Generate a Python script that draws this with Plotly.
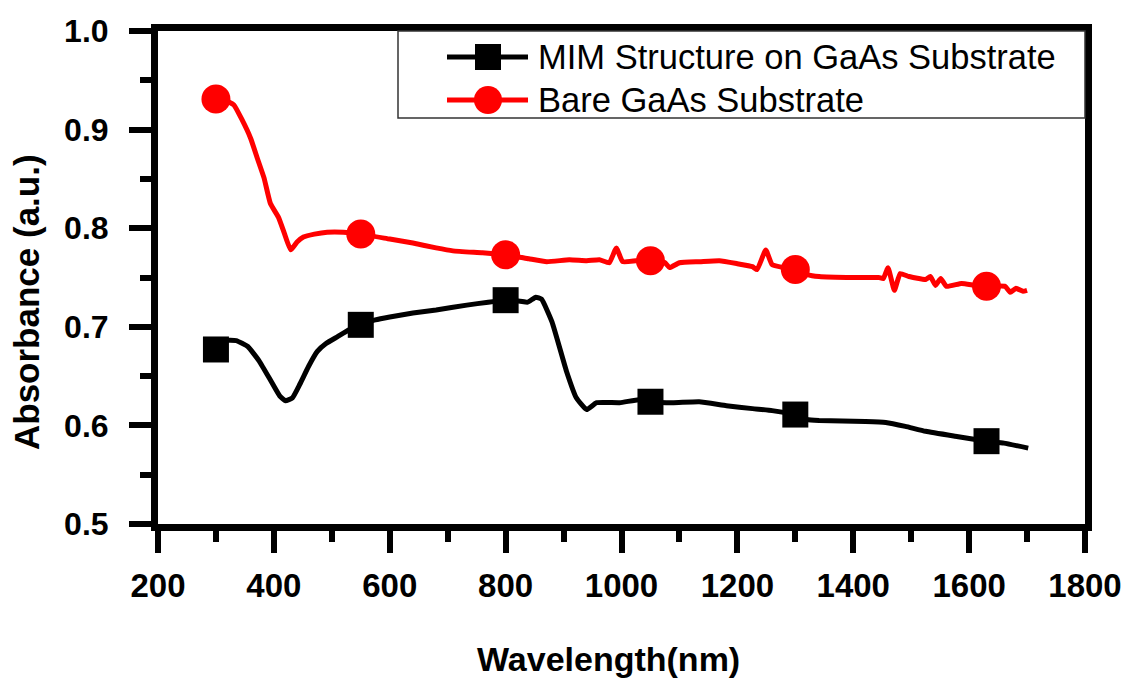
import plotly.graph_objects as go

# ---------------- data ----------------
series_names = ["MIM Structure on GaAs Substrate", "Bare GaAs Substrate"]

mim_x = [300, 315, 335, 355, 375, 395, 410, 420, 432, 445, 460, 475, 490, 510, 530,
         550, 575, 600, 640, 680, 733, 770, 800, 825, 838, 852, 862, 880, 905, 922,
         940, 957, 997, 1030, 1050, 1088, 1134, 1181, 1226, 1260, 1300, 1320, 1341,
         1421, 1456, 1490, 1525, 1576, 1630, 1660, 1702]
mim_y = [0.677, 0.686, 0.686, 0.680, 0.665, 0.645, 0.630, 0.625, 0.628, 0.642, 0.660,
         0.675, 0.683, 0.690, 0.697, 0.702, 0.707, 0.710, 0.714, 0.717, 0.722, 0.725,
         0.727, 0.726, 0.725, 0.730, 0.728, 0.705, 0.655, 0.628, 0.616, 0.623, 0.623,
         0.626, 0.624, 0.623, 0.624, 0.620, 0.617, 0.615, 0.611, 0.606, 0.605, 0.604,
         0.603, 0.599, 0.594, 0.589, 0.584, 0.582, 0.577]

bare_x = [300, 315, 331, 345, 360, 372, 383, 394, 408, 418, 429, 440, 451, 470, 492,
          520, 550, 600, 640, 680, 709, 760, 800, 840, 871, 910, 940, 962, 979, 991,
          1002, 1025, 1050, 1075, 1083, 1100, 1135, 1169, 1200, 1226, 1234, 1249, 1260,
          1280, 1300, 1320, 1341, 1400, 1444, 1452, 1460, 1471, 1481, 1496, 1525, 1533,
          1542, 1551, 1561, 1587, 1610, 1630, 1662, 1671, 1681, 1693, 1700]
bare_y = [0.931, 0.930, 0.925, 0.910, 0.891, 0.870, 0.851, 0.825, 0.811, 0.795, 0.778,
          0.786, 0.791, 0.794, 0.796, 0.796, 0.794, 0.789, 0.785, 0.780, 0.777, 0.775,
          0.773, 0.769, 0.766, 0.768, 0.767, 0.768, 0.765, 0.780, 0.766, 0.767, 0.768,
          0.765, 0.760, 0.765, 0.766, 0.767, 0.764, 0.761, 0.758, 0.778, 0.763, 0.760,
          0.758, 0.753, 0.751, 0.750, 0.750, 0.749, 0.760, 0.737, 0.754, 0.751, 0.748,
          0.751, 0.742, 0.749, 0.741, 0.744, 0.742, 0.741, 0.741, 0.735, 0.739, 0.736,
          0.737]

marker_x = [300, 550, 800, 1050, 1300, 1630]
mim_marker_y = [0.677, 0.702, 0.727, 0.624, 0.611, 0.584]
bare_marker_y = [0.931, 0.794, 0.773, 0.767, 0.758, 0.741]

x_ticks = [200, 400, 600, 800, 1000, 1200, 1400, 1600, 1800]
y_ticks = [0.5, 0.6, 0.7, 0.8, 0.9, 1.0]

x_title = "Wavelength(nm)"
y_title = "Absorbance (a.u.)"

# ---------------- figure ----------------
FONT = "Arial, Liberation Sans, sans-serif"
fig = go.Figure()

fig.add_trace(go.Scatter(x=mim_x, y=mim_y, mode="lines", name=series_names[0],
                         line=dict(color="black", width=5, shape="spline", smoothing=0.4),
                         showlegend=False, hoverinfo="skip"))
fig.add_trace(go.Scatter(x=bare_x, y=bare_y, mode="lines", name=series_names[1],
                         line=dict(color="#ff0000", width=5, shape="spline", smoothing=0.4),
                         showlegend=False, hoverinfo="skip"))
fig.add_trace(go.Scatter(x=marker_x, y=mim_marker_y, mode="markers", name=series_names[0],
                         marker=dict(symbol="square", size=26, color="black"),
                         showlegend=False))
fig.add_trace(go.Scatter(x=marker_x, y=bare_marker_y, mode="markers", name=series_names[1],
                         marker=dict(symbol="circle", size=29, color="#ff0000"),
                         showlegend=False))

axis_common = dict(
    showline=True, linewidth=7, linecolor="black", mirror=True,
    ticks="outside", ticklen=22, tickwidth=6, tickcolor="black",
    showgrid=False, zeroline=False,
)

fig.update_xaxes(
    range=[200, 1800], tickvals=x_ticks,
    tickfont=dict(family=FONT, size=33, color="black", weight="bold"),
    minor=dict(ticks="outside", ticklen=11, tickwidth=6, tickcolor="black", dtick=100,
               showgrid=False),
    ticklabelstandoff=4,
    **axis_common,
)
fig.update_yaxes(
    range=[0.5, 1.0], tickvals=y_ticks, tickformat=".1f",
    tickfont=dict(family=FONT, size=32, color="black", weight="bold"),
    minor=dict(ticks="outside", ticklen=11, tickwidth=6, tickcolor="black", dtick=0.05,
               showgrid=False),
    ticklabelstandoff=14,
    **axis_common,
)

L, R, T, B = 158, 50, 31, 155
W, H = 1135, 679
pw, ph = W - L - R, H - T - B


def px_x(px):
    return (px - L) / pw


def px_y(py):
    return (H - B - py) / ph


# axis titles
fig.add_annotation(text=x_title, xref="paper", yref="paper", x=px_x(608), y=px_y(659),
                   showarrow=False, xanchor="center", yanchor="middle",
                   font=dict(family=FONT, size=34, color="black", weight="bold"))
fig.add_annotation(text=y_title, xref="paper", yref="paper", x=px_x(27), y=px_y(302),
                   showarrow=False, xanchor="center", yanchor="middle", textangle=-90,
                   font=dict(family=FONT, size=35, color="black", weight="bold"))

# legend (drawn to match the original's large symbols)
shapes = []
shapes.append(dict(type="rect", xref="paper", yref="paper",
                   x0=px_x(398), x1=1.0, y0=px_y(118), y1=1.0,
                   line=dict(color="#333333", width=1.5), fillcolor="white", layer="above"))
row_y = [px_y(57), px_y(100)]
colors = ["black", "#ff0000"]
symbols = ["rect", "circle"]
half = [13, 14]
for i in range(2):
    shapes.append(dict(type="line", xref="paper", yref="paper",
                       x0=px_x(447), x1=px_x(528), y0=row_y[i], y1=row_y[i],
                       line=dict(color=colors[i], width=5), layer="above"))
    shapes.append(dict(type=symbols[i], xref="paper", yref="paper",
                       xsizemode="pixel", ysizemode="pixel",
                       xanchor=px_x(488), yanchor=row_y[i],
                       x0=-half[i], x1=half[i], y0=-half[i], y1=half[i],
                       fillcolor=colors[i], line=dict(color=colors[i], width=0),
                       layer="above"))
    fig.add_annotation(text=series_names[i], xref="paper", yref="paper",
                       x=px_x(536), y=row_y[i], showarrow=False,
                       xanchor="left", yanchor="middle",
                       font=dict(family=FONT, size=34.5, color="black"))

fig.update_layout(
    width=W, height=H,
    margin=dict(l=L, r=R, t=T, b=B),
    plot_bgcolor="white", paper_bgcolor="white",
    shapes=shapes,
    showlegend=False,
)

fig.write_html("out.html")
